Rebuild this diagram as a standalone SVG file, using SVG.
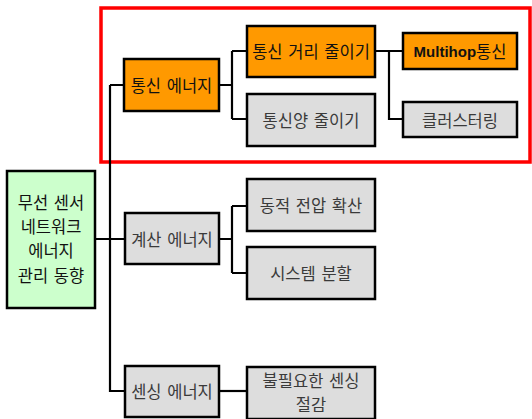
<svg xmlns="http://www.w3.org/2000/svg" width="532" height="419" viewBox="0 0 532 419">
<style>
.box{stroke:#000;stroke-width:2.5}
.or{fill:#FF9900}
.gr{fill:#DDDDDD}
.gn{fill:#CCFFCC}
.t{font-family:"Noto Sans CJK KR","Noto Sans",sans-serif;font-size:16.5px;word-spacing:2px;text-anchor:middle;dominant-baseline:central}
.tk{fill:#111}
.tg{fill:#3a3a3a}
.conn{fill:none;stroke:#000;stroke-width:2.2}
</style>
<rect x="101" y="8" width="429" height="154" fill="none" stroke="#FF0000" stroke-width="3.5"/>
<g id="connectors">
<path class="conn" d="M95 239H124M110 85V391H125M110 85H124"/>
<path class="conn" d="M219 85H232M232 51V119M232 51H247M232 119H247"/>
<path class="conn" d="M375 51H403M389 51V119H403"/>
<path class="conn" d="M219 239H232M232 206V273M232 206H247M232 273H247"/>
<path class="conn" d="M219 391H247"/>
</g>
<g id="root">
<rect class="box gn" x="7" y="171" width="88" height="137"/>
<text class="t tk" x="51" y="202">무선 센서</text>
<text class="t tk" x="51" y="226">네트워크</text>
<text class="t tk" x="51" y="250">에너지</text>
<text class="t tk" x="51" y="275">관리 동향</text>
</g>
<g id="comm">
<rect class="box or" x="124" y="59" width="95" height="52"/>
<text class="t tk" x="171.5" y="85">통신 에너지</text>
</g>
<g id="comm-dist">
<rect class="box or" x="247" y="26" width="128" height="51"/>
<text class="t tk" x="311" y="51">통신 거리 줄이기</text>
</g>
<g id="comm-amount">
<rect class="box gr" x="247" y="94" width="128" height="52"/>
<text class="t tg" x="311" y="120">통신양 줄이기</text>
</g>
<g id="multihop">
<rect class="box or" x="403" y="33" width="114" height="36"/>
<text class="t tk" x="460" y="51"><tspan font-family="'Liberation Sans',Arial,sans-serif" font-weight="bold" font-size="15">Multihop</tspan>통신</text>
</g>
<g id="cluster">
<rect class="box gr" x="403" y="102" width="114" height="35"/>
<text class="t tg" x="460" y="119.5">클러스터링</text>
</g>
<g id="compute">
<rect class="box gr" x="125" y="213" width="94" height="51"/>
<text class="t tg" x="172" y="239">계산 에너지</text>
</g>
<g id="dvs">
<rect class="box gr" x="247" y="179" width="128" height="52"/>
<text class="t tg" x="311" y="205">동적 전압 확산</text>
</g>
<g id="partition">
<rect class="box gr" x="247" y="247" width="128" height="52"/>
<text class="t tg" x="311" y="273">시스템 분할</text>
</g>
<g id="sensing">
<rect class="box gr" x="125" y="366" width="94" height="51"/>
<text class="t tg" x="172" y="391">센싱 에너지</text>
</g>
<g id="sense-cut">
<rect class="box gr" x="247" y="367" width="128" height="52"/>
<text class="t tg" x="311" y="380">불필요한 센싱</text>
<text class="t tg" x="311" y="404">절감</text>
</g>
</svg>
